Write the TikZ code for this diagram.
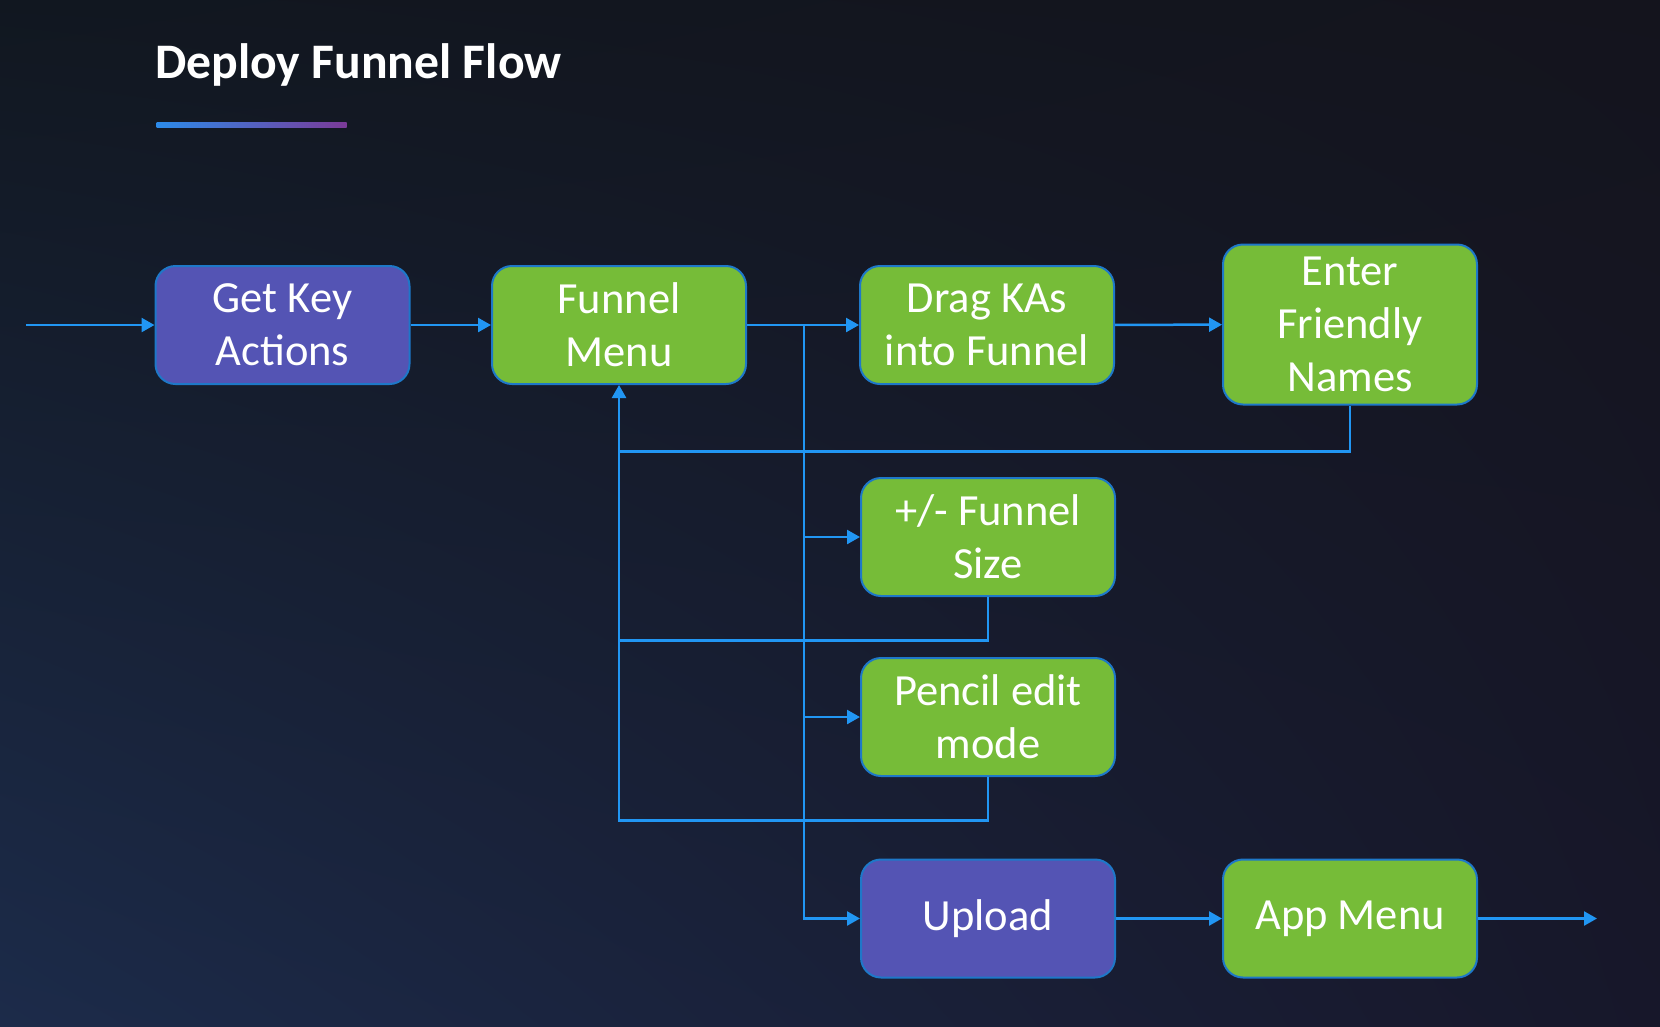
\documentclass[tikz,border=0pt]{standalone}
\usepackage{fontspec}
\setmainfont{Carlito}
\usetikzlibrary{arrows.meta,shadings}

\definecolor{bgtop}{HTML}{111720}
\definecolor{bgtopright}{HTML}{14141D}
\definecolor{bgbotleft}{HTML}{1C2B4A}
\definecolor{bgbotright}{HTML}{17172A}
\definecolor{boxgreen}{HTML}{76BC38}
\definecolor{boxpurple}{HTML}{5454B4}
\definecolor{boxedge}{HTML}{1E78C8}
\definecolor{linkblue}{HTML}{2196F3}
\definecolor{barblue}{HTML}{2C8BEA}
\definecolor{barpurple}{HTML}{7B3A98}

\tikzset{
  flowbox/.style={draw=boxedge, line width=2pt, rounded corners=20pt,
    minimum width=254pt, minimum height=118pt, inner sep=0pt,
    align=center, text=white, font=\fontsize{44.5}{53}\selectfont},
  greenbox/.style={flowbox, fill=boxgreen},
  purplebox/.style={flowbox, fill=boxpurple},
  flowline/.style={draw=linkblue, line width=2.5pt,
    -{Triangle[length=13pt,width=14pt]}},
  backline/.style={draw=linkblue, line width=2.5pt}
}

\begin{document}
\begin{tikzpicture}[x=1pt,y=-1pt]
	\useasboundingbox (0,0) rectangle (1660,1026);
	\shade[upper left=bgtop, upper right=bgtopright, lower left=bgbotleft, lower right=bgbotright] (0,0) rectangle (1660,1026);
	\node[anchor=base west, inner sep=0pt, text=white, font=\fontsize{49.7}{55}\selectfont\bfseries] (title) at (155,78) {Deploy Funnel Flow};
	\shade[left color=barblue, right color=barpurple] (156.5,122) rectangle (346.5,127.5);
	\node[purplebox] (getkey) at (282.5,325) {Get Key\\Actions};
	\node[greenbox] (funnel) at (619,325) {Funnel\\Menu};
	\node[greenbox] (drag) at (987,325) {Drag KAs\\into Funnel};
	\node[greenbox, minimum height=160pt] (names) at (1350,324.5) {Enter\\Friendly\\Names};
	\node[greenbox] (size) at (988,537) {+/- Funnel\\Size};
	\node[greenbox] (pencil) at (988,717) {Pencil edit\\mode};
	\node[purplebox] (upload) at (988,918.5) {Upload};
	\node[greenbox] (appmenu) at (1350,918.5) {App Menu};
	\coordinate (start) at (26,325);
	\coordinate (finish) at (1597,918.5);
	\coordinate (trunk) at (804,325);
	\coordinate (fbnames) at (619,451.5);
	\coordinate (fbsize) at (619,640.5);
	\coordinate (fbpencil) at (619,820.5);
	\draw[flowline] (start) -- (getkey);
	\draw[flowline] (getkey) -- (funnel);
	\draw[flowline] (funnel) -- (drag);
	\draw[flowline] (drag) -- (names);
	\draw[flowline] (trunk) |- (size);
	\draw[flowline] (trunk) |- (pencil);
	\draw[flowline] (trunk) |- (upload);
	\draw[flowline] (upload) -- (appmenu);
	\draw[flowline] (appmenu) -- (finish);
	\draw[backline] (names.south) |- (fbnames);
	\draw[backline] (size.south) |- (fbsize);
	\draw[flowline] (pencil.south) |- (fbpencil) -- (funnel.south);
\end{tikzpicture}
\end{document}
